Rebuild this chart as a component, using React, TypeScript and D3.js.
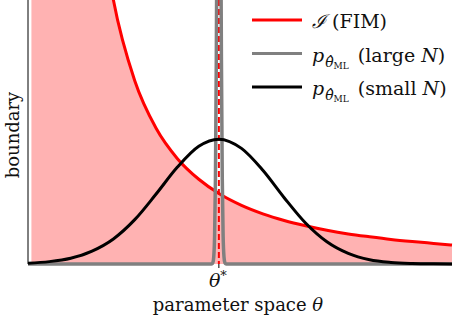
import React from "react";
import * as d3 from "d3";

// Curves (theta in plot units, value as a fraction of the plot height)
const fimTheta = [0.08, 0.25, 0.5, 0.75, 1, 1.25, 1.5, 1.75, 2, 2.5, 3, 3.5, 4, 4.5, 5, 5.5, 6, 6.5, 7, 7.5, 8, 8.5, 9, 9.5, 9.93];
const fimValue = [60, 30.3, 9.71, 5.0, 3.12, 2.16, 1.6, 1.245, 1.0, 0.694, 0.514, 0.399, 0.321, 0.264, 0.222, 0.19, 0.165, 0.145, 0.128, 0.114, 0.103, 0.093, 0.085, 0.078, 0.072];

const smallNTheta = [0, 0.5, 1, 1.5, 2, 2.5, 3, 3.5, 4, 4.47, 5, 5.5, 6, 6.5, 7, 7.5, 8, 8.5, 9, 9.5, 9.93];
const smallNValue = [0.003, 0.009, 0.022, 0.049, 0.095, 0.168, 0.265, 0.367, 0.446, 0.473, 0.438, 0.355, 0.251, 0.155, 0.084, 0.04, 0.016, 0.006, 0.002, 0.0005, 0.0001];

const largeNTheta = [0, 4.27, 4.31, 4.33, 4.35, 4.37, 4.39, 4.41, 4.43, 4.45, 4.47, 4.49, 4.51, 4.53, 4.55, 4.57, 4.59, 4.61, 4.63, 4.67, 9.93];
const largeNValue = [0, 0, 0.0008, 0.005, 0.027, 0.105, 0.323, 0.776, 1.45, 2.11, 2.39, 2.11, 1.45, 0.776, 0.323, 0.105, 0.027, 0.005, 0.0008, 0, 0];

const thetaStar = 4.47;
const legendItems = [
  { key: "fim", color: "#ff0000" },
  { key: "large", color: "#808080", n: "large" },
  { key: "small", color: "#000000", n: "small" },
];

const W = 458;
const H = 324;
const left = 28;
const right = 452;
const bottom = 264;
const font = "DejaVu Serif";

export default function App() {
  const x = d3.scaleLinear().domain([0, 9.93]).range([left, right]);
  const y = d3.scaleLinear().domain([0, 1]).range([bottom, 0]);

  const fim = fimTheta.map((t, i) => [t, fimValue[i]] as [number, number]);
  const small = smallNTheta.map((t, i) => [t, smallNValue[i]] as [number, number]);
  const large = largeNTheta.map((t, i) => [t, largeNValue[i]] as [number, number]);

  const line = d3
    .line<[number, number]>()
    .x((d) => x(d[0]))
    .y((d) => y(d[1]))
    .curve(d3.curveMonotoneX);
  const area = d3
    .area<[number, number]>()
    .x((d) => x(d[0]))
    .y0(y(0))
    .y1((d) => y(d[1]))
    .curve(d3.curveMonotoneX);

  const txt = { fontFamily: font, fill: "#111" };

  const pLabel = (n?: string) => (
    <>
      <tspan fontStyle="italic">p</tspan>
      <tspan fontStyle="italic" fontSize={14} dy={5} dx={1}>θ̂</tspan>
      <tspan fontSize={9} dy={2}>ML</tspan>
      <tspan dy={-7} dx={9}>(</tspan>
      <tspan>{n} </tspan>
      <tspan fontStyle="italic">N</tspan>
      <tspan>)</tspan>
    </>
  );

  return (
    <svg width={W} height={H} style={{ position: "absolute", left: 0, top: 0 }}>
      <defs>
        <clipPath id="plot">
          <rect x={left} y={0} width={right - left + 2} height={bottom + 4} />
        </clipPath>
      </defs>
      <rect width={W} height={H} fill="#fff" />
      <g clipPath="url(#plot)">
        <path d={area(fim) ?? ""} fill="rgba(255,0,0,0.3)" />
        <line x1={x(thetaStar)} x2={x(thetaStar)} y1={0} y2={bottom} stroke="#ff0000" strokeWidth={2} strokeDasharray="6,3" />
        <path d={line(fim) ?? ""} fill="none" stroke="#ff0000" strokeWidth={3} />
        <path d={line(large) ?? ""} fill="none" stroke="#808080" strokeWidth={3.5} />
        <path d={line(small) ?? ""} fill="none" stroke="#000" strokeWidth={3} />
      </g>
      <line x1={left} x2={left} y1={0} y2={bottom} stroke="#000" strokeWidth={1} />
      <line x1={x(thetaStar)} x2={x(thetaStar)} y1={bottom} y2={bottom + 4} stroke="#000" strokeWidth={1} />
      <text x={x(thetaStar) - 1} y={287} textAnchor="middle" fontSize={19} fontStyle="italic" style={txt}>
        θ<tspan fontSize={13} dy={-7} fontStyle="normal">*</tspan>
      </text>
      <text x={238} y={311} textAnchor="middle" fontSize={18} style={txt}>
        parameter space <tspan fontStyle="italic">θ</tspan>
      </text>
      <text transform={`translate(19,${bottom / 2 + 3}) rotate(-90)`} textAnchor="middle" fontSize={18} style={txt}>
        boundary
      </text>
      {legendItems.map((d, i) => {
        const ly = 20 + i * 33.5;
        return (
          <g key={d.key}>
            <line x1={252} x2={302} y1={ly} y2={ly} stroke={d.color} strokeWidth={3} />
            <text x={312} y={ly + 8} fontSize={19} style={txt}>
              {d.key === "fim" ? (
                <>
                  <tspan fontStyle="italic">ℐ</tspan> (FIM)
                </>
              ) : (
                pLabel(d.n)
              )}
            </text>
          </g>
        );
      })}
    </svg>
  );
}
